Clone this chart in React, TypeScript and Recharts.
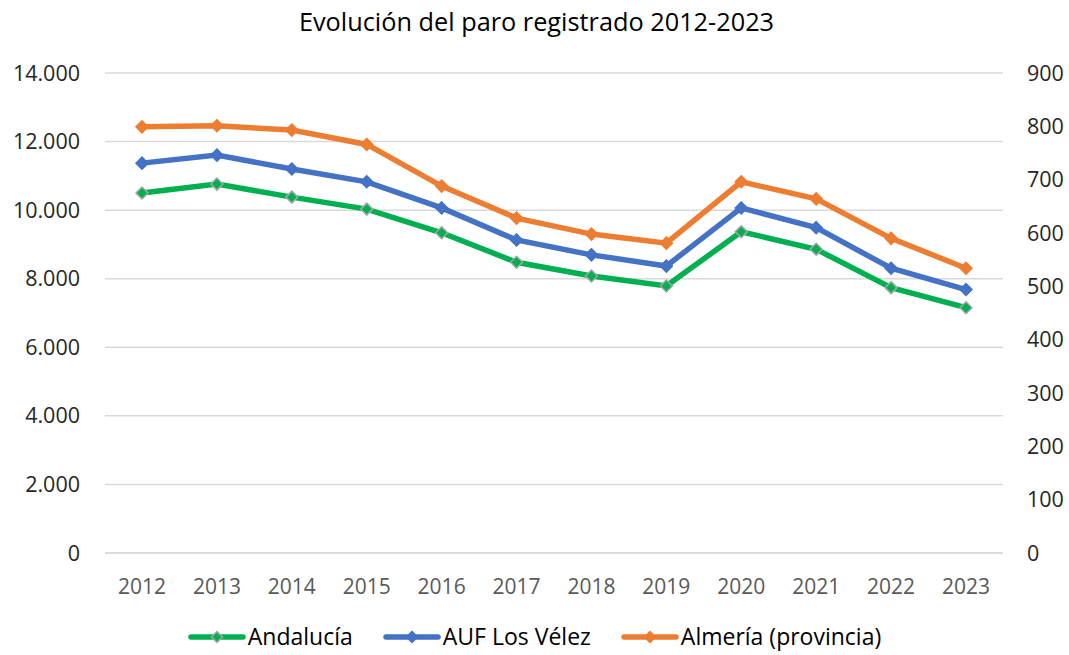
import React from "react";
import { LineChart, Line, XAxis, YAxis, CartesianGrid } from "recharts";

const years = ["2012", "2013", "2014", "2015", "2016", "2017", "2018", "2019", "2020", "2021", "2022", "2023"];
const andalucia = [10500, 10760, 10380, 10030, 9340, 8480, 8080, 7790, 9370, 8860, 7740, 7155];
const aufLosVelez = [731, 746, 720, 696, 647, 587, 559, 538, 647, 610, 534, 494];
const almeria = [799, 801, 793, 766, 688, 628, 598, 581, 696, 664, 590, 534];
const leftTicks = [0, 2000, 4000, 6000, 8000, 10000, 12000, 14000];
const rightTicks = [0, 100, 200, 300, 400, 500, 600, 700, 800, 900];

const data = years.map((year, i) => ({
  year,
  andalucia: andalucia[i],
  auf: aufLosVelez[i],
  almeria: almeria[i],
}));

const FONT = "'Open Sans', 'Noto Sans', sans-serif";

const series = [
  { key: "andalucia", name: "Andalucía", color: "#00b050", marker: "#00b050", border: "#a5a5a5" },
  { key: "auf", name: "AUF Los Vélez", color: "#4472c4", marker: "#4472c4", border: "#4472c4" },
  { key: "almeria", name: "Almería (provincia)", color: "#ed7d31", marker: "#ed7d31", border: "#ed7d31" },
];

const fmt = (v: number) => v.toString().replace(/\B(?=(\d{3})+(?!\d))/g, ".");

function diamond(fill: string, stroke: string) {
  return (props: any) => {
    const { cx, cy, index } = props;
    if (cx == null || cy == null) return <g key={index} />;
    const r = 6;
    return (
      <path
        key={index}
        d={`M${cx},${cy - r}L${cx + r},${cy}L${cx},${cy + r}L${cx - r},${cy}Z`}
        fill={fill}
        stroke={stroke}
        strokeWidth={1.5}
      />
    );
  };
}

function LegendRow() {
  return (
    <div
      style={{
        position: "absolute",
        top: 621,
        left: 0,
        width: 1069,
        display: "flex",
        justifyContent: "center",
        fontFamily: FONT,
        fontSize: 23,
        lineHeight: "31px",
        color: "#000",
        whiteSpace: "nowrap",
      }}
    >
      {series.map((s) => (
        <div key={s.key} style={{ display: "flex", alignItems: "center", margin: "0 15px" }}>
          <svg width={58} height={14} style={{ marginRight: 2 }}>
            <line x1={3} y1={7} x2={55} y2={7} stroke={s.color} strokeWidth={5.5} strokeLinecap="round" />
            <path d="M29,1.5L34.5,7L29,12.5L23.5,7Z" fill={s.marker} stroke={s.border} strokeWidth={1.5} />
          </svg>
          <span>{s.name}</span>
        </div>
      ))}
    </div>
  );
}

export default function App() {
  return (
    <div style={{ position: "absolute", top: 0, left: 0, width: 1069, height: 655, background: "#fff", overflow: "hidden" }}>
      <div
        style={{
          position: "absolute",
          top: 4,
          left: 2,
          width: 1069,
          textAlign: "center",
          fontFamily: FONT,
          fontSize: 25.3,
          color: "#000",
        }}
      >
        Evolución del paro registrado 2012-2023
      </div>
      <LineChart width={1069} height={655} data={data} margin={{ top: 73, right: 0, left: 0, bottom: 42 }}>
        <CartesianGrid vertical={false} stroke="#d9d9d9" strokeWidth={1.5} yAxisId="left" />
        <XAxis
          dataKey="year"
          height={60}
          padding={{ left: 37, right: 37 }}
          axisLine={{ stroke: "#d9d9d9", strokeWidth: 1.5 }}
          tickLine={false}
          tickSize={0}
          tickMargin={26}
          tick={{ fill: "#595959", fontSize: 21, fontFamily: FONT }}
        />
        <YAxis
          yAxisId="left"
          orientation="left"
          width={105}
          domain={[0, 14000]}
          ticks={leftTicks}
          tickFormatter={fmt}
          axisLine={false}
          tickLine={false}
          tickSize={0}
          tickMargin={25}
          tick={{ fill: "#262626", fontSize: 21.5, fontFamily: FONT }}
        />
        <YAxis
          yAxisId="right"
          orientation="right"
          width={66}
          domain={[0, 900]}
          ticks={rightTicks}
          axisLine={false}
          tickLine={false}
          tickSize={0}
          tickMargin={24}
          tick={{ fill: "#262626", fontSize: 21.5, fontFamily: FONT }}
        />
        <Line
          yAxisId="left"
          dataKey="andalucia"
          name="Andalucía"
          stroke="#00b050"
          strokeWidth={5.5}
          dot={diamond("#00b050", "#a5a5a5")}
          activeDot={false}
          isAnimationActive={false}
        />
        <Line
          yAxisId="right"
          dataKey="auf"
          name="AUF Los Vélez"
          stroke="#4472c4"
          strokeWidth={5.5}
          dot={diamond("#4472c4", "#4472c4")}
          activeDot={false}
          isAnimationActive={false}
        />
        <Line
          yAxisId="right"
          dataKey="almeria"
          name="Almería (provincia)"
          stroke="#ed7d31"
          strokeWidth={5.5}
          dot={diamond("#ed7d31", "#ed7d31")}
          activeDot={false}
          isAnimationActive={false}
        />
      </LineChart>
      <LegendRow />
    </div>
  );
}
